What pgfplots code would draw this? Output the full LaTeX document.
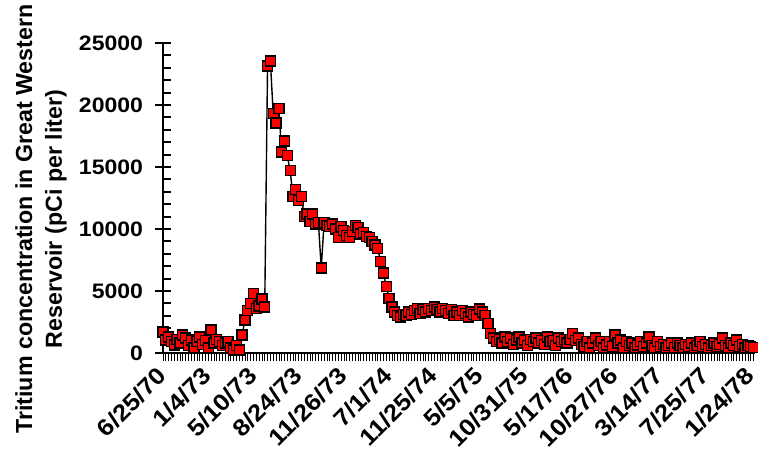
\documentclass[border=0pt]{standalone}
\usepackage{fontspec}
\setmainfont{Liberation Sans}
\newfontfamily\tickfont{Liberation Sans}[FakeStretch=1.1]
\usepackage{pgfplots}
\pgfplotsset{compat=1.18}
\usepackage{pgfplotstable}
\pgfplotstableread{
i v
0 1700
1 1050
2 1300
3 900
4 650
5 1100
6 800
7 1450
8 1200
9 600
10 1050
11 400
12 900
13 1300
14 700
15 1000
16 400
17 1850
18 800
19 1100
20 900
21 600
22 800
23 900
24 400
25 250
26 600
27 250
28 1450
29 2660
30 3450
31 4000
32 4800
33 3600
34 3800
35 4350
36 3700
37 23150
38 23550
39 19300
40 18550
41 19700
42 16200
43 17100
44 15900
45 14700
46 12600
47 13200
48 12300
49 12600
50 11000
51 11200
52 10600
53 11200
54 10400
55 10500
56 6850
57 10500
58 10300
59 10200
60 10400
61 10000
62 9300
63 10200
64 9900
65 9500
66 9300
67 9800
68 10300
69 10100
70 9600
71 9700
72 9400
73 9300
74 9000
75 8700
76 8400
77 7400
78 6450
79 5350
80 4400
81 3700
82 3300
83 3050
84 2900
85 3100
86 3000
87 3300
88 3100
89 3400
90 3600
91 3200
92 3500
93 3300
94 3600
95 3400
96 3700
97 3500
98 3300
99 3600
100 3400
101 3200
102 3500
103 3000
104 3300
105 3050
106 3400
107 3200
108 2900
109 3300
110 3100
111 3000
112 3550
113 3300
114 3050
115 2400
116 1600
117 1200
118 900
119 1100
120 800
121 1300
122 900
123 1200
124 700
125 1050
126 1300
127 800
128 1050
129 600
130 1100
131 900
132 1200
133 800
134 1000
135 700
136 1300
137 900
138 1000
139 600
140 1200
141 900
142 1100
143 800
144 1100
145 1600
146 1000
147 1200
148 700
149 500
150 900
151 400
152 800
153 1200
154 600
155 900
156 400
157 650
158 900
159 500
160 1450
161 800
162 1050
163 400
164 900
165 600
166 800
167 400
168 650
169 900
170 500
171 800
172 1300
173 600
174 400
175 900
176 500
177 700
178 400
179 600
180 800
181 450
182 800
183 600
184 400
185 700
186 500
187 800
188 400
189 600
190 900
191 500
192 700
193 400
194 600
195 800
196 500
197 700
198 1200
199 600
200 400
201 800
202 600
203 1050
204 500
205 700
206 400
207 600
208 500
209 450
}\tdata
\begin{document}
\begin{tikzpicture}
\begin{axis}[
  scale only axis, width=592bp, height=310bp,
  xmin=0, xmax=209.5, ymin=0, ymax=25000,
  axis x line*=bottom, axis y line*=left,
  x axis line style={-, line width=1.6pt},
  y axis line style={-, line width=2.4pt},
  xtick={0,16,...,208},
  xticklabels={6/25/70,1/4/73,5/10/73,8/24/73,11/26/73,7/1/74,11/25/74,5/5/75,10/31/75,5/17/76,10/27/76,3/14/77,7/25/77,1/24/78},
  minor xtick={0,1,...,209},
  major x tick style={draw=none},
  minor x tick style={line width=0.7pt, black},
  xtick align=outside,
  ytick={0,5000,...,25000},
  minor ytick={0,1000,...,25000},
  scaled y ticks=false,
  ytick align=center,
  major tick length=15bp,
  minor tick length=8bp,
  major y tick style={line width=2.2pt, black},
  minor y tick style={line width=2.2pt, black, xshift=4bp},
  /pgf/number format/1000 sep={},
  /pgf/number format/assume math mode=true,
  yticklabel style={font=\tickfont\bfseries\fontsize{21}{24}\selectfont, xshift=-9bp},
  xticklabel style={font=\tickfont\bfseries\fontsize{23.5}{26}\selectfont, rotate=45, anchor=east, yshift=-2bp},
  ylabel={Tritium concentration in Great Western\\Reservoir (pCi per liter)},
  ylabel style={font=\bfseries\fontsize{23.3}{30}\selectfont, align=center, at={(axis description cs:-0.206,0.432)}, anchor=center},
  clip=false,
]
\coordinate (O) at (rel axis cs:0,0);
\addplot[black, line width=1.4pt, mark=square*, mark size=5bp,
  mark options={fill=red, draw=black, line width=1.3pt, solid}] table[x=i, y=v]{\tdata};
\end{axis}
\pgfresetboundingbox
\useasboundingbox (O) ++(-163bp,-100bp) rectangle ++(758bp,453bp);
\end{tikzpicture}
\end{document}
